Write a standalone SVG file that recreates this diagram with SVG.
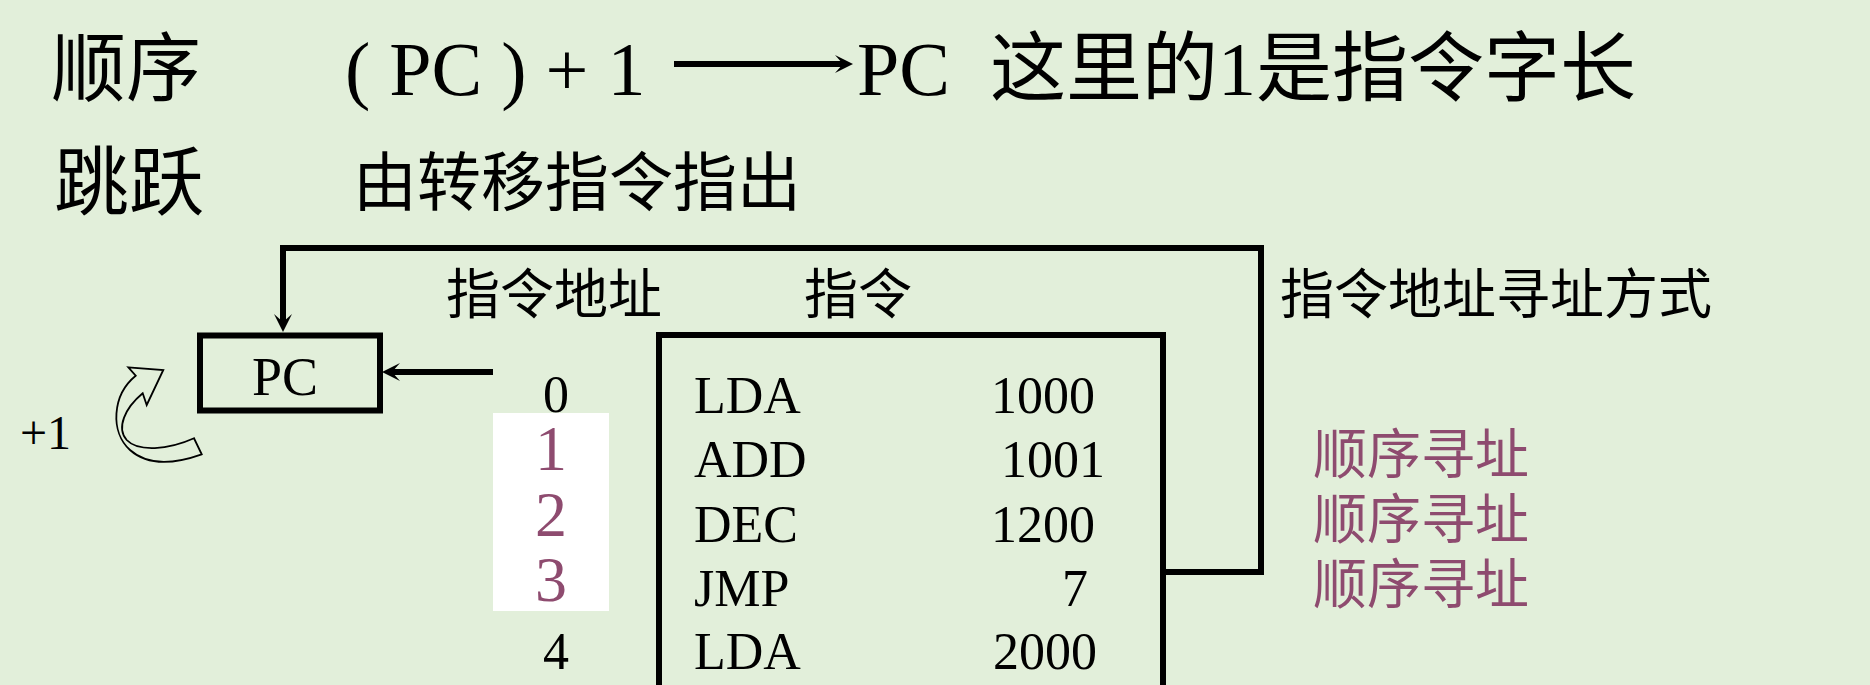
<svg xmlns="http://www.w3.org/2000/svg" width="1870" height="685" viewBox="0 0 1870 685">
<style>
.t{font-family:"Liberation Serif","Noto Sans CJK SC",serif;fill:#000}
.p{fill:#8E4B6F}
.ln{fill:none;stroke:#000;stroke-width:6;stroke-linejoin:miter}
.box{fill:none;stroke:#000;stroke-width:6}
</style>
<defs>
<marker id="ah" markerUnits="userSpaceOnUse" markerWidth="20" markerHeight="20" refX="8" refY="9" orient="auto" viewBox="0 0 20 20">
<path d="M0,0 L18,9 L0,18 L8,9 Z" fill="#000"/>
</marker>
</defs>
<rect x="0" y="0" width="1870" height="685" fill="#E2EFDA"/>
<g id="heading">
<text class="t" x="51" y="95" font-size="75">顺序</text>
<text class="t" x="345" y="95" font-size="76">( PC ) + 1</text>
<text class="t" x="857" y="95" font-size="76">PC</text>
<text class="t" x="990" y="95" font-size="76">这里的1是指令字长</text>
<text class="t" x="54" y="209" font-size="75">跳跃</text>
<text class="t" x="353" y="205" font-size="64">由转移指令指出</text>
</g>
<g id="labels">
<text class="t" x="446" y="314" font-size="54">指令地址</text>
<text class="t" x="804" y="314" font-size="54">指令</text>
<text class="t" x="1280" y="314" font-size="54">指令地址寻址方式</text>
</g>
<g id="pc">
<rect class="box" x="200" y="335.5" width="180" height="75"/>
<text class="t" x="285" y="395" font-size="54" text-anchor="middle">PC</text>
</g>
<g id="plus1">
<text class="t" x="20" y="449" font-size="48">+1</text>
<path d="M128.3,367.3 L163.3,370 L146.7,405 L142.7,393.3 C125,408 116,428 126.7,440 C138,452 168,450 194,438.3 L201.7,454.3 C180,462 150,468 130,450 C110,432 112,395 135.7,375.7 Z" fill="none" stroke="#000" stroke-width="1.8" stroke-linejoin="miter"/>
</g>
<g id="addresses">
<rect x="493" y="413" width="116" height="198" fill="#FFFFFF"/>
<text class="t" x="556" y="412" font-size="52" text-anchor="middle">0</text>
<text class="t p" x="551" y="470" font-size="64" text-anchor="middle">1</text>
<text class="t p" x="551" y="536" font-size="64" text-anchor="middle">2</text>
<text class="t p" x="551" y="601" font-size="64" text-anchor="middle">3</text>
<text class="t" x="556" y="669" font-size="52" text-anchor="middle">4</text>
</g>
<g id="memory">
<path class="ln" d="M659,690 V335 H1163 V690"/>
<text class="t" x="694" y="413" font-size="52">LDA</text>
<text class="t" x="991" y="413" font-size="52">1000</text>
<text class="t" x="694" y="477" font-size="52">ADD</text>
<text class="t" x="1001" y="477" font-size="52">1001</text>
<text class="t" x="694" y="542" font-size="52">DEC</text>
<text class="t" x="991" y="542" font-size="52">1200</text>
<text class="t" x="694" y="606" font-size="52">JMP</text>
<text class="t" x="1062" y="606" font-size="52">7</text>
<text class="t" x="694" y="669" font-size="52">LDA</text>
<text class="t" x="993" y="669" font-size="52">2000</text>
</g>
<g id="modes">
<text class="t p" x="1313" y="474" font-size="54">顺序寻址</text>
<text class="t p" x="1313" y="539" font-size="54">顺序寻址</text>
<text class="t p" x="1313" y="604" font-size="54">顺序寻址</text>
</g>
<g id="connectors">
<path class="ln" d="M674,64 H843" marker-end="url(#ah)"/>
<path class="ln" d="M1163,572 H1261 V248 H283 V322" marker-end="url(#ah)"/>
<path class="ln" d="M493,372 H392" marker-end="url(#ah)"/>
</g>
</svg>
